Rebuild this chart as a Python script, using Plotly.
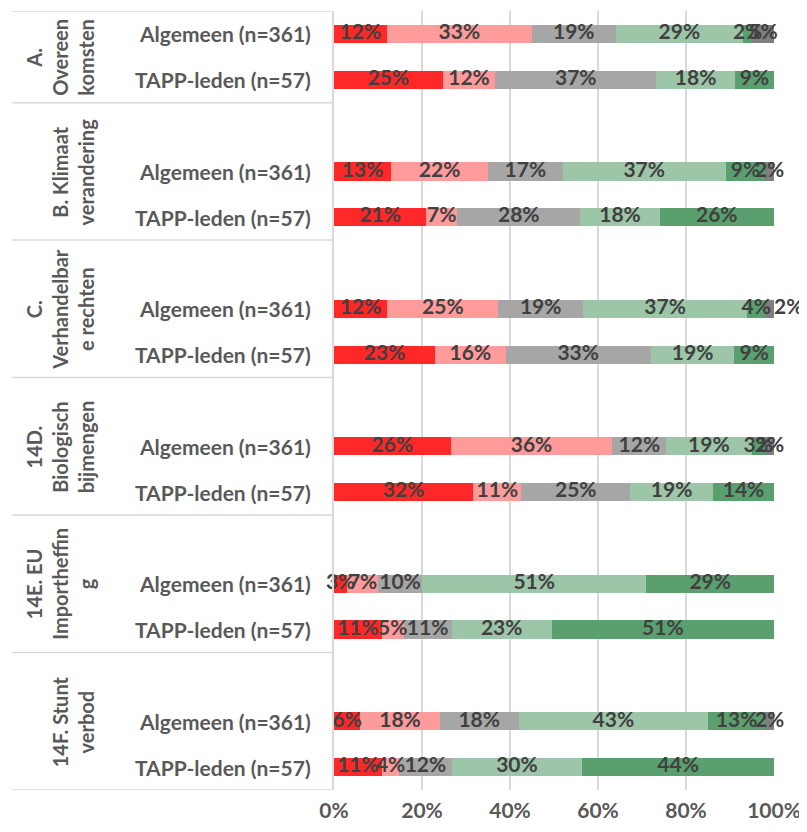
import plotly.graph_objects as go

groups = ["A.<br>Overeen<br>komsten", "B. Klimaat<br>verandering", "C.<br>Verhandelbar<br>e rechten",
          "14D.<br>Biologisch<br>bijmengen", "14E. EU<br>Importheffin<br>g", "14F. Stunt<br>verbod"]
rows = ["Algemeen (n=361)", "TAPP-leden (n=57)"]

# per row order: A Alg, A TAPP, B Alg, B TAPP, ... F Alg, F TAPP
s1 = [12, 25, 13, 21, 12, 23, 26, 32, 3, 11, 6, 11]
s2 = [33, 12, 22, 7, 25, 16, 36, 11, 7, 5, 18, 4]
s3 = [19, 37, 17, 28, 19, 33, 12, 25, 10, 11, 18, 12]
s4 = [29, 18, 37, 18, 37, 19, 19, 19, 51, 23, 43, 30]
s5 = [2, 9, 9, 26, 4, 9, 3, 14, 29, 51, 13, 44]
s6 = [5, 0, 2, 0, 2, 0, 2, 0, 0, 0, 2, 0]
series = [s1, s2, s3, s4, s5, s6]
colors = ["#FF2828", "#FF9B9B", "#A6A6A6", "#9DC6A9", "#5AA06F", "#7F7F7F"]
ticks = ["0%", "20%", "40%", "60%", "80%", "100%"]

# y slot positions (blank slot between groups)
ypos = []
for g in range(6):
    base = 0 if g == 0 else 3 * g
    ypos += [base, base + 1]

fig = go.Figure()
totals = [sum(s[i] for s in series) for i in range(len(ypos))]
for k, s in enumerate(series):
    fig.add_trace(go.Bar(x=s, y=ypos, orientation="h", marker=dict(color=colors[k], line=dict(width=0)),
                         width=0.4, showlegend=False, hoverinfo="skip"))

# labels
lx, ly, lt, lp = [], [], [], []
for i in range(len(ypos)):
    cum = 0
    for k, s in enumerate(series):
        v = s[i] / totals[i] * 100
        if s[i] > 0:
            if k == 5 and i == 4:
                lx.append(cum + v); lp.append("middle right")
            else:
                lx.append(cum + v / 2); lp.append("middle center")
            ly.append(ypos[i]); lt.append(f"{s[i]}%")
        cum += v
fig.add_trace(go.Scatter(x=lx, y=ly, text=lt, mode="text", textposition=lp,
                         textfont=dict(family="Lato", size=21, color="#404040", weight="bold"),
                         showlegend=False, hoverinfo="skip", cliponaxis=False))

OFF = 8  # page body margin
L, R = 334, 774
def px(x):
    return (x - L) / (R - L)

# separators
for yb in [-0.5, 1.5, 4.5, 7.5, 10.5, 13.5, 16.5]:
    fig.add_shape(type="line", xref="paper", yref="y", x0=px(12), x1=0, y0=yb, y1=yb,
                  line=dict(color="#D9D9D9", width=1.5))

ann = []
for i, y in enumerate(ypos):
    ann.append(dict(x=px(313), y=y, xref="paper", yref="y", text=rows[i % 2], showarrow=False,
                    xanchor="right", yanchor="middle",
                    font=dict(family="Lato", size=21, color="#595959", weight="bold")))
gc = [0.5, 3, 6, 9, 12, 15]
for g in range(6):
    ann.append(dict(x=px(100), y=gc[g], xref="paper", yref="y", text=groups[g], showarrow=False,
                    textangle=-90, xanchor="right", yanchor="middle",
                    font=dict(family="Lato", size=20, color="#595959", weight="bold")))

fig.update_layout(
    width=807 - OFF, height=832 - OFF, barmode="stack", barnorm="percent",
    margin=dict(l=L - OFF, r=807 - R, t=11 - OFF, b=832 - 790, autoexpand=False),
    plot_bgcolor="white", paper_bgcolor="white",
    annotations=ann,
    xaxis=dict(range=[0, 100], tickvals=[0, 20, 40, 60, 80, 100], ticktext=ticks,
               showgrid=True, gridcolor="#D9D9D9", gridwidth=1.5, zeroline=False,
               tickfont=dict(family="Lato", size=21, color="#595959", weight="bold"),
               ticklabelstandoff=6, fixedrange=True, automargin=False),
    yaxis=dict(range=[16.5, -0.5], showticklabels=False, showgrid=False, zeroline=False,
               showline=True, linecolor="#D9D9D9", linewidth=1.5, automargin=False),
)
fig.write_html("out.html")
